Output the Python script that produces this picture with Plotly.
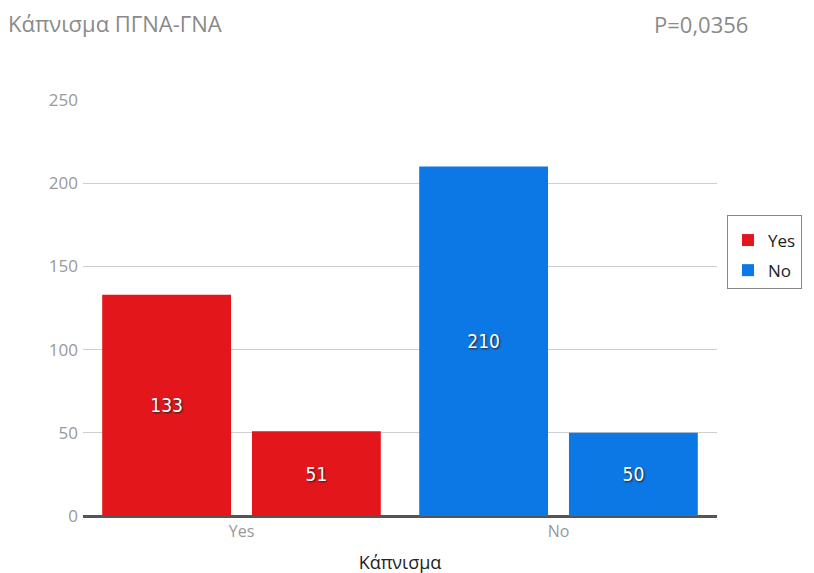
import plotly.graph_objects as go

categories = ["Yes", "No"]
first_values = [133, 210]
second_values = [51, 50]
colors = {"Yes": "#e3161c", "No": "#0c78e6"}
y_ticks = [0, 50, 100, 150, 200, 250]
title_text = "Κάπνισμα ΠΓΝΑ-ΓΝΑ"
p_text = "P=0,0356"
x_title = "Κάπνισμα"

fig = go.Figure()
label_font = dict(family="DejaVu Sans Condensed, Arial Narrow, sans-serif", size=19,
                  color="white", shadow="1px 1px 2px #222")
for i, cat in enumerate(categories):
    for grp, vals in (("a", first_values), ("b", second_values)):
        fig.add_trace(go.Bar(
            x=[cat], y=[vals[i]], name=cat,
            offsetgroup=grp, legendgroup=cat,
            showlegend=(grp == "a"),
            marker=dict(color=colors[cat], line=dict(width=0)),
            text=[vals[i]], textposition="inside", insidetextanchor="middle",
            textfont=label_font, hoverinfo="x+y",
        ))

fig.update_layout(
    width=814, height=573,
    margin=dict(l=75, r=105, t=92, b=65, pad=0),
    plot_bgcolor="white", paper_bgcolor="white",
    barmode="group", bargap=0.055, bargroupgap=0.14,
    font=dict(family="Open Sans, Noto Sans, sans-serif", color="#888"),
    title=dict(text=title_text, x=0, xref="container", xanchor="left",
               y=1 - 16/573, yref="container", yanchor="middle",
               pad=dict(l=0, t=0, b=0, r=0),
               font=dict(size=22, color="#8a8a8a")),
    legend=dict(x=(719-75)/634, xanchor="left", y=(508-207)/416, yanchor="top",
                bordercolor="#888", borderwidth=1, bgcolor="white",
                font=dict(size=17, color="#222"), tracegroupgap=5,
                itemwidth=30,
                title=dict(text=" ", font=dict(size=5))),
    uniformtext=dict(mode=False),
)
fig.add_annotation(text=p_text, xref="paper", yref="paper",
                   x=(644-75)/634, y=(508-16)/416, xanchor="left", yanchor="middle",
                   showarrow=False, font=dict(size=22, color="#8a8a8a"))
fig.update_yaxes(range=[0, 250], tickvals=y_ticks, showgrid=True, gridcolor="#cfcfcf",
                 gridwidth=1, zeroline=True, zerolinecolor="#555", zerolinewidth=2,
                 ticks="", ticklabelstandoff=4, automargin=False,
                 tickfont=dict(size=17, color="#999"))
fig.update_xaxes(showline=True, linecolor="#555", linewidth=2, automargin=False,
                 tickfont=dict(size=16, color="#999"),
                 title=dict(text=x_title, font=dict(size=18, color="#222"), standoff=15))

fig.write_html("out.html")
